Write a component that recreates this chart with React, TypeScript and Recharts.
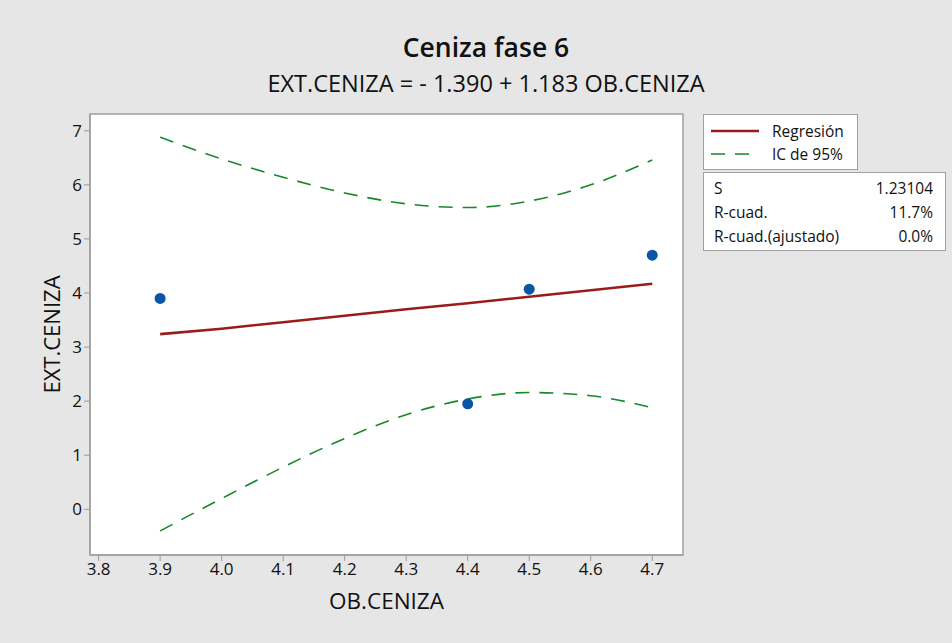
import {
  ComposedChart,
  Line,
  Scatter,
  XAxis,
  YAxis,
  CartesianGrid,
  ReferenceArea,
} from "recharts";

const FONT = "'Open Sans', 'Noto Sans', sans-serif";

// x grid for the fitted line and the 95% band
const xValues = [3.9, 4.0, 4.1, 4.2, 4.3, 4.4, 4.5, 4.6, 4.7];
const fitValues = [3.24, 3.34, 3.46, 3.58, 3.7, 3.81, 3.93, 4.05, 4.17];
const upperValues = [6.88, 6.48, 6.14, 5.85, 5.65, 5.58, 5.7, 6.0, 6.46];
const lowerValues = [-0.4, 0.2, 0.78, 1.31, 1.75, 2.04, 2.16, 2.1, 1.88];

// observed points
const obsX = [3.9, 4.4, 4.5, 4.7];
const obsY = [3.9, 1.95, 4.07, 4.7];

const xTicks = [3.8, 3.9, 4.0, 4.1, 4.2, 4.3, 4.4, 4.5, 4.6, 4.7];
const yTicks = [0, 1, 2, 3, 4, 5, 6, 7];

const statLabels = ["S", "R-cuad.", "R-cuad.(ajustado)"];
const statValues = ["1.23104", "11.7%", "0.0%"];

const X_DOMAIN = [3.786, 4.75];
const Y_DOMAIN = [-0.845, 7.31];

const RED = "#9b1b1b";
const GREEN = "#16882a";
const BLUE = "#0a55a8";
const INK = "#111";

function LegendBox() {
  const rows = [
    { name: "Regresión", color: RED, width: 2.5, dash: undefined },
    { name: "IC de 95%", color: GREEN, width: 1.6, dash: "14 10" },
  ];
  return (
    <div
      style={{
        position: "absolute",
        left: 703,
        top: 114,
        width: 155,
        height: 56,
        boxSizing: "border-box",
        background: "#fff",
        border: "1px solid #a0a0a0",
        fontSize: 15.5,
        fontWeight: 500,
        color: INK,
        padding: "4px 0 0 6px",
      }}
    >
      {rows.map((r) => (
        <div key={r.name} style={{ display: "flex", alignItems: "center", height: 23 }}>
          <svg width={50} height={6}>
            <line
              x1={1}
              y1={3}
              x2={49}
              y2={3}
              stroke={r.color}
              strokeWidth={r.width}
              strokeDasharray={r.dash}
            />
          </svg>
          <span style={{ marginLeft: 12 }}>{r.name}</span>
        </div>
      ))}
    </div>
  );
}

export default function App() {
  const bandRows = xValues.map((x, i) => ({
    x,
    fit: fitValues[i],
    upper: upperValues[i],
    lower: lowerValues[i],
  }));
  const points = obsX.map((x, i) => ({ x, y: obsY[i] }));

  const tickStyle = { fill: INK, fontSize: 17, fontFamily: FONT, fontWeight: 500 };

  return (
    <div
      style={{
        position: "absolute",
        left: 0,
        top: 0,
        width: 952,
        height: 643,
        background: "#e6e6e6",
        fontFamily: FONT,
      }}
    >
      <div
        style={{
          position: "absolute",
          top: 29,
          left: 10,
          width: 952,
          textAlign: "center",
          fontSize: 26.5,
          fontWeight: 600,
          color: INK,
          lineHeight: "36px",
        }}
      >
        Ceniza fase 6
      </div>
      <div
        style={{
          position: "absolute",
          top: 67,
          left: 10,
          width: 952,
          textAlign: "center",
          fontSize: 23.5,
          fontWeight: 500,
          color: INK,
          lineHeight: "32px",
        }}
      >
        EXT.CENIZA = - 1.390 + 1.183 OB.CENIZA
      </div>

      <ComposedChart
        width={952}
        height={643}
        margin={{ top: 114, right: 269, bottom: 0, left: 0 }}
        style={{ position: "absolute", left: 0, top: 0 }}
      >
        <CartesianGrid fill="#ffffff" horizontal={false} vertical={false} />
        <XAxis
          dataKey="x"
          type="number"
          domain={X_DOMAIN}
          ticks={xTicks}
          allowDataOverflow
          tickFormatter={(v: number) => v.toFixed(1)}
          tick={tickStyle}
          tickLine={{ stroke: "#999" }}
          axisLine={{ stroke: "#a0a0a0", strokeWidth: 1.5 }}
          tickSize={6}
          height={88}
          label={{
            value: "OB.CENIZA",
            position: "insideTop",
            offset: 38,
            fill: INK,
            fontSize: 22.5,
            fontWeight: 500,
            fontFamily: FONT,
          }}
        />
        <YAxis
          type="number"
          domain={Y_DOMAIN}
          ticks={yTicks}
          allowDataOverflow
          tick={tickStyle}
          tickLine={{ stroke: "#999" }}
          axisLine={{ stroke: "#a0a0a0", strokeWidth: 1.5 }}
          tickSize={6}
          width={90}
          label={{
            value: "EXT.CENIZA",
            angle: -90,
            position: "insideLeft",
            offset: 52,
            fill: INK,
            fontSize: 22,
            fontWeight: 500,
            fontFamily: FONT,
            style: { textAnchor: "middle" },
          }}
        />
        <ReferenceArea
          x1={X_DOMAIN[0]}
          x2={X_DOMAIN[1]}
          y1={Y_DOMAIN[0]}
          y2={Y_DOMAIN[1]}
          fill="none"
          stroke="#a0a0a0"
          strokeWidth={1.5}
          ifOverflow="visible"
        />
        <Line
          data={bandRows}
          dataKey="upper"
          name="IC de 95%"
          type="monotone"
          stroke={GREEN}
          strokeWidth={1.6}
          strokeDasharray="14 10"
          dot={false}
          isAnimationActive={false}
        />
        <Line
          data={bandRows}
          dataKey="lower"
          type="monotone"
          stroke={GREEN}
          strokeWidth={1.6}
          strokeDasharray="14 10"
          dot={false}
          isAnimationActive={false}
        />
        <Line
          data={bandRows}
          dataKey="fit"
          name="Regresión"
          type="linear"
          stroke={RED}
          strokeWidth={2.6}
          dot={false}
          isAnimationActive={false}
        />
        <Scatter
          data={points}
          dataKey="y"
          fill={BLUE}
          shape={(p: any) => <circle cx={p.cx} cy={p.cy} r={5.5} fill={BLUE} />}
          isAnimationActive={false}
        />
      </ComposedChart>

      <LegendBox />

      <div
        style={{
          position: "absolute",
          left: 703,
          top: 172,
          width: 243,
          height: 79,
          boxSizing: "border-box",
          background: "#fff",
          border: "1px solid #a0a0a0",
          fontSize: 15.5,
          fontWeight: 500,
          color: INK,
          padding: "3px 12px 0 10px",
        }}
      >
        {statLabels.map((label, i) => (
          <div
            key={label}
            style={{
              display: "flex",
              justifyContent: "space-between",
              height: 24,
              lineHeight: "24px",
            }}
          >
            <span>{label}</span>
            <span>{statValues[i]}</span>
          </div>
        ))}
      </div>
    </div>
  );
}
